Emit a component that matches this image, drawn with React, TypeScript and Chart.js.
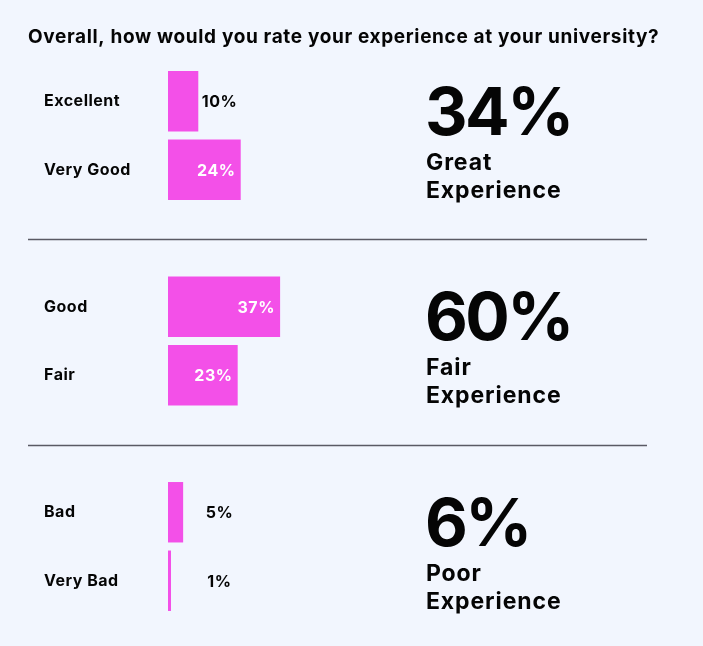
import { useEffect, useRef } from 'react'
import { Chart, registerables } from 'chart.js'

Chart.register(...registerables)

// survey answers, grouped in pairs
const answerLabels = ['Excellent', 'Very Good', 'Good', 'Fair', 'Bad', 'Very Bad']
const answerValues = [10, 24, 37, 23, 5, 1]

// right-hand summaries, one per group
const summaryPct = [34, 60, 6]
const summaryWord = ['Great', 'Fair', 'Poor']

const TITLE = 'Overall, how would you rate your experience at your university?'
const FONT = 'Inter, "Noto Sans", sans-serif'
const BAR = '#f350e8'
const BG = '#f2f6fe'
const INK = '#050505'

// spacer categories between the groups
const categories: string[] = []
const values: (number | null)[] = []
answerLabels.forEach((l, i) => {
  if (i > 0 && i % 2 === 0) {
    categories.push('')
    values.push(null)
  }
  categories.push(l)
  values.push(answerValues[i])
})

const overlay = {
  id: 'overlay',
  beforeDraw(chart: any) {
    // the reference face is a little wider than Inter
    chart.ctx.letterSpacing = '0.5px'
  },
  afterDatasetsDraw(chart: any) {
    const { ctx } = chart
    const x = chart.scales.x
    const y = chart.scales.y
    ctx.save()

    // title
    ctx.letterSpacing = '0.65px'
    ctx.fillStyle = INK
    ctx.font = `bold 19px ${FONT}`
    ctx.textAlign = 'left'
    ctx.textBaseline = 'alphabetic'
    ctx.fillText(TITLE, 28, 43)

    // bar value labels
    ctx.letterSpacing = '0.6px'
    const meta = chart.getDatasetMeta(0)
    meta.data.forEach((bar: any, i: number) => {
      const v = values[i]
      if (v == null) return
      ctx.font = `bold 16px ${FONT}`
      ctx.textBaseline = 'middle'
      if (v >= 20) {
        ctx.fillStyle = '#fff'
        ctx.textAlign = 'right'
        ctx.fillText(`${v}%`, bar.x - 5, bar.y + 1)
      } else {
        ctx.fillStyle = INK
        ctx.textAlign = 'center'
        ctx.fillText(`${v}%`, x.getPixelForValue(17), bar.y + 1)
      }
    })

    // separators
    ctx.strokeStyle = '#5a5a64'
    ctx.lineWidth = 1.5
    ;[2, 5].forEach((idx) => {
      const py = Math.round(y.getPixelForValue(idx)) + 1.5
      ctx.beginPath()
      ctx.moveTo(28, py)
      ctx.lineTo(647, py)
      ctx.stroke()
    })

    // summaries
    summaryPct.forEach((p, g) => {
      const mid = y.getPixelForValue(g * 3 + 0.5)
      ctx.fillStyle = INK
      ctx.textAlign = 'left'
      ctx.textBaseline = 'alphabetic'
      ctx.letterSpacing = '-2.5px'
      ctx.font = `bold 66px ${FONT}`
      ctx.fillText(`${p}%`, 425, mid - 1)
      ctx.letterSpacing = '0.9px'
      ctx.font = `bold 23px ${FONT}`
      ctx.fillText(summaryWord[g], 426, mid + 34)
      ctx.fillText('Experience', 426, mid + 62)
    })
    ctx.restore()
  },
}

export default function App() {
  const chartRef = useRef<HTMLCanvasElement>(null)
  const chartInstance = useRef<Chart | null>(null)

  useEffect(() => {
    if (!chartRef.current) return
    if (chartInstance.current) chartInstance.current.destroy()
    const ctx = chartRef.current.getContext('2d')
    if (!ctx) return

    chartInstance.current = new Chart(ctx, {
      type: 'bar',
      data: {
        labels: categories,
        datasets: [
          {
            data: values,
            backgroundColor: BAR,
            borderWidth: 0,
            barPercentage: 60 / 68,
            categoryPercentage: 1,
          },
        ],
      },
      options: {
        indexAxis: 'y',
        responsive: false,
        animation: false,
        layout: { padding: { left: 44, top: 67, bottom: 31, right: 232 } },
        plugins: {
          legend: { display: false },
          tooltip: { enabled: false },
        },
        scales: {
          x: { display: false, min: 0, max: 100 },
          y: {
            grid: { display: false },
            border: { display: false },
            afterFit: (scale: any) => {
              scale.width = 124
            },
            ticks: {
              crossAlign: 'far',
              padding: 0,
              color: INK,
              font: { family: FONT, size: 16, weight: 'bold' },
            },
          },
        },
      },
      plugins: [overlay],
    } as any)

    return () => {
      if (chartInstance.current) {
        chartInstance.current.destroy()
        chartInstance.current = null
      }
    }
  }, [])

  return (
    <div style={{ position: 'fixed', left: 0, top: 0, width: 703, height: 646, background: BG }}>
      <canvas ref={chartRef} width={703} height={646} />
    </div>
  )
}
